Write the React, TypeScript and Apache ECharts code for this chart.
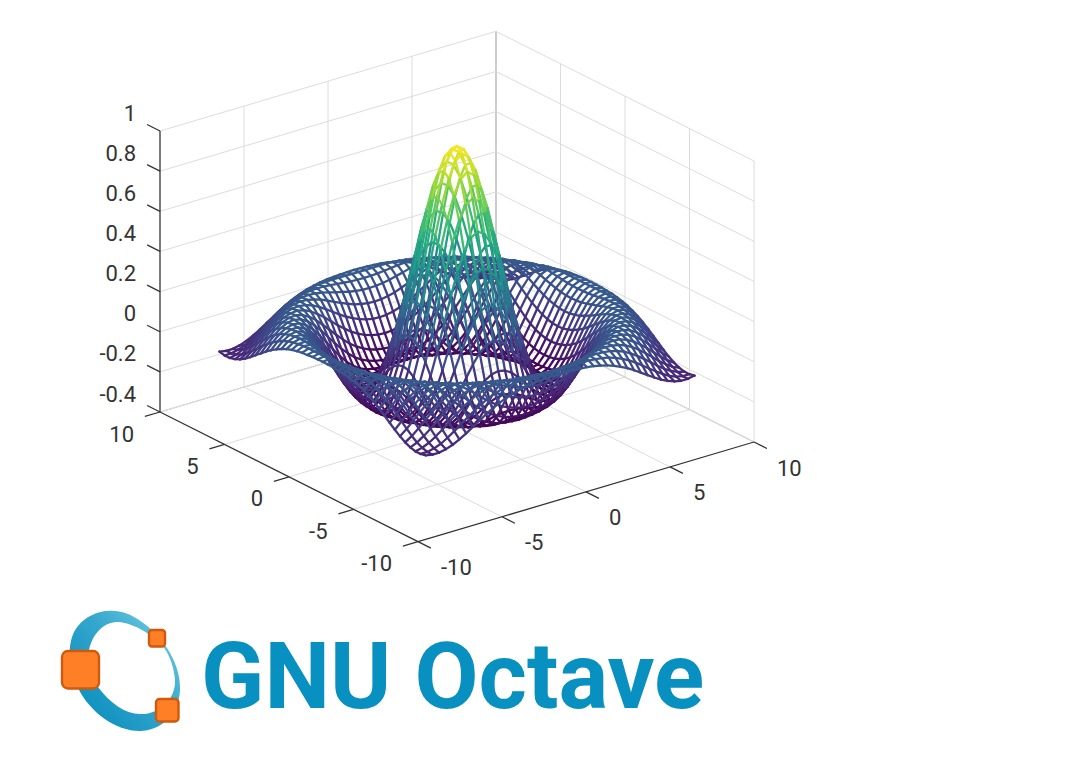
import React, { useEffect, useRef } from "react";
import * as echarts from "echarts";

// Height of the surface at the grid nodes (-8..8, 41 nodes a side), estimated by eye and
// written out once per symmetric node: halfMesh[max(|i|,|j|)][min(|i|,|j|)].
const halfMesh: number[][] = [
  [1.0],
  [0.974, 0.947],
  [0.897, 0.871, 0.799],
  [0.777, 0.753, 0.687, 0.584],
  [0.625, 0.604, 0.546, 0.455, 0.34],
  [0.455, 0.437, 0.388, 0.311, 0.215, 0.109],
  [0.282, 0.268, 0.227, 0.166, 0.089, 0.007, -0.073],
  [0.12, 0.109, 0.079, 0.032, -0.025, -0.085, -0.14, -0.184],
  [-0.018, -0.025, -0.046, -0.079, -0.118, -0.156, -0.189, -0.21, -0.216],
  [-0.123, -0.127, -0.14, -0.16, -0.181, -0.2, -0.213, -0.217, -0.206, -0.182],
  [-0.189, -0.191, -0.196, -0.205, -0.212, -0.217, -0.213, -0.201, -0.178, -0.146, -0.103],
  [-0.216, -0.216, -0.217, -0.217, -0.212, -0.205, -0.19, -0.168, -0.137, -0.099, -0.056, -0.01],
  [-0.208, -0.206, -0.202, -0.196, -0.185, -0.17, -0.148, -0.119, -0.085, -0.047, -0.006, 0.034, 0.071],
  [-0.17, -0.168, -0.162, -0.152, -0.137, -0.117, -0.092, -0.062, -0.029, 0.006, 0.041, 0.074, 0.1, 0.119],
  [-0.113, -0.111, -0.103, -0.092, -0.076, -0.056, -0.031, -0.004, 0.026, 0.055, 0.081, 0.104, 0.12, 0.128, 0.125],
  [-0.047, -0.045, -0.038, -0.027, -0.012, 0.006, 0.027, 0.05, 0.073, 0.094, 0.111, 0.123, 0.128, 0.125, 0.114, 0.095],
  [0.018, 0.02, 0.026, 0.034, 0.047, 0.061, 0.076, 0.093, 0.107, 0.118, 0.126, 0.128, 0.124, 0.112, 0.093, 0.069, 0.04],
  [0.073, 0.074, 0.078, 0.084, 0.093, 0.101, 0.111, 0.119, 0.125, 0.128, 0.126, 0.119, 0.107, 0.089, 0.066, 0.038, 0.009, -0.02],
  [0.11, 0.111, 0.113, 0.116, 0.12, 0.124, 0.127, 0.128, 0.126, 0.121, 0.112, 0.099, 0.08, 0.058, 0.033, 0.006, -0.021, -0.046, -0.067],
  [0.127, 0.127, 0.128, 0.128, 0.128, 0.127, 0.124, 0.119, 0.112, 0.101, 0.086, 0.068, 0.047, 0.023, -0.002, -0.026, -0.049, -0.069, -0.082, -0.09],
  [0.124, 0.123, 0.122, 0.119, 0.117, 0.112, 0.105, 0.096, 0.084, 0.069, 0.052, 0.032, 0.01, -0.012, -0.034, -0.054, -0.071, -0.083, -0.09, -0.09, -0.084],
];
const nodeStep = 0.4;
const xyTicks = [-10, -5, 0, 5, 10];
const zTicks = [-0.4, -0.2, 0, 0.2, 0.4, 0.6, 0.8, 1];
const zTickLabels = ["-0.4", "-0.2", "0", "0.2", "0.4", "0.6", "0.8", "1"];
const viridis = ["#440154", "#482878", "#3e4989", "#31688e", "#26828e", "#1f9e89", "#35b779", "#6ece58", "#b5de2b", "#fde725"];
const logoTitle = "GNU Octave";

const ORIGIN = { u: 457, v: 427 };
const EX = { u: 16.8, v: -4.985 };
const EY = { u: -12.9, v: -6.485 };
const EZ = -200.7;
const project = (x: number, y: number, z: number): [number, number] => [
  ORIGIN.u + EX.u * x + EY.u * y,
  ORIGIN.v + EX.v * x + EY.v * y + EZ * (z + 0.4),
];
const nodeZ = (i: number, j: number) => {
  const a = Math.abs(i), b = Math.abs(j);
  return halfMesh[Math.max(a, b)][Math.min(a, b)];
};

const RING_PATH =
  "M110 610.7C128 610 142 621 152 630C168 645 181 668 180 690C179 715 160 731 140 731C115 731 90 712 78 688C68 668 66 640 78 626C85 617 97 611 110 610.7Z" +
  "M118 622C105 622 93 632 89 650C87 665 92 678 98 687C110 703 125 714 140 714C158 715 176 700 175 680C174 665 168 652 162 645C155 637 135 623 118 622Z";
echarts.graphic.registerShape("octaveRing", echarts.graphic.extendPath(RING_PATH, {}) as any);

function meshSegments() {
  const out: number[][] = [];
  for (let j = 20; j >= -20; j--) {
    for (let i = 20; i >= -20; i--) {
      const x = i * nodeStep, y = j * nodeStep, z = nodeZ(i, j);
      if (i > -20) {
        const z2 = nodeZ(i - 1, j);
        out.push([x, y, z, (i - 1) * nodeStep, y, z2, (z + z2) / 2]);
      }
      if (j > -20) {
        const z2 = nodeZ(i, j - 1);
        out.push([x, y, z, x, (j - 1) * nodeStep, z2, (z + z2) / 2]);
      }
    }
  }
  return out;
}

// kind: 0 wall grid, 1 rear edge, 2 dark axis line or tick
function frameSegments() {
  const zLo = zTicks[0], zHi = zTicks[zTicks.length - 1];
  const out: number[][] = [];
  for (const t of xyTicks) {
    if (t > -10) out.push([t, -10, zLo, t, 10, zLo, t === 10 ? 1 : 0]);
    if (t > -10) out.push([-10, t, zLo, 10, t, zLo, t === 10 ? 1 : 0]);
    if (t > -10) out.push([t, 10, zLo, t, 10, zHi, t === 10 ? 1 : 0]);
    out.push([10, t, zLo, 10, t, zHi, t === 10 ? 1 : 0]);
  }
  for (const z of zTicks) {
    out.push([-10, 10, z, 10, 10, z, 0]);
    out.push([10, 10, z, 10, -10, z, 0]);
  }
  out.push([-10, 10, zLo, -10, -10, zLo, 2]);
  out.push([-10, -10, zLo, 10, -10, zLo, 2]);
  out.push([-10, 10, zLo, -10, 10, zHi, 2]);
  for (const t of xyTicks) {
    out.push([t, -10, zLo, t, -11, zLo, 2]);
    out.push([-10, t, zLo, -10.9, t, zLo, 2]);
  }
  for (const z of zTicks) out.push([-10, 10, z, -10, 11, z, 2]);
  return out;
}

const LINE_STYLES: Record<number, any> = {
  0: { stroke: "#dcdcdc", lineWidth: 1 },
  1: { stroke: "#bfbfbf", lineWidth: 1.1 },
  2: { stroke: "#333333", lineWidth: 1.3 },
};

function labelRows() {
  const rows: any[] = [];
  xyTicks.forEach((t) => {
    rows.push({ value: [-10, t, -0.4, -26, 22, 0], name: String(t) });
    rows.push({ value: [t, -10, -0.4, 23, 26, 1], name: String(t) });
  });
  zTicks.forEach((z, k) => rows.push({ value: [-10, 10, z, -24, -18, 0], name: zTickLabels[k] }));
  return rows;
}

const square = (x: number, y: number, w: number, h: number, r: number) => ({
  type: "rect",
  shape: { x, y, width: w, height: h, r },
  style: { fill: "#ff7f27", stroke: "#cf5a0c", lineWidth: 2.4 },
  z: 12,
});

export default function App() {
  const ref = useRef<HTMLDivElement>(null);
  useEffect(() => {
    const chart = echarts.init(ref.current!, undefined, { renderer: "svg" });
    const hiddenAxis = (max: number, inverse: boolean) => ({
      type: "value" as const, min: 0, max, inverse, show: false, splitLine: { show: false },
    });
    const lineItem = (params: any, api: any) => {
      const a = project(api.value(0), api.value(1), api.value(2));
      const b = project(api.value(3), api.value(4), api.value(5));
      const p = api.coord(a), q = api.coord(b);
      return { p, q };
    };
    const labels = labelRows();
    chart.setOption({
      animation: false,
      backgroundColor: "#ffffff",
      grid: { left: 0, top: 0, width: 1080, height: 766 },
      xAxis: hiddenAxis(1080, false),
      yAxis: hiddenAxis(766, true),
      visualMap: {
        show: false, type: "continuous", seriesIndex: 1, dimension: 6,
        min: -0.217, max: 1, inRange: { color: viridis },
      },
      series: [
        {
          type: "custom", silent: true, coordinateSystem: "cartesian2d", clip: false, z: 2,
          data: frameSegments(),
          renderItem: (params: any, api: any) => {
            const { p, q } = lineItem(params, api);
            return {
              type: "line",
              shape: { x1: p[0], y1: p[1], x2: q[0], y2: q[1] },
              style: LINE_STYLES[api.value(6)],
            };
          },
        },
        {
          type: "custom", silent: true, coordinateSystem: "cartesian2d", clip: false, z: 3,
          data: meshSegments(),
          renderItem: (params: any, api: any) => {
            const { p, q } = lineItem(params, api);
            return {
              type: "line",
              shape: { x1: p[0], y1: p[1], x2: q[0], y2: q[1] },
              style: { stroke: api.visual("color"), lineWidth: 2.3, lineCap: "round" },
            };
          },
        },
        {
          type: "custom", silent: true, coordinateSystem: "cartesian2d", clip: false, z: 4,
          data: labels,
          renderItem: (params: any, api: any) => {
            const p = api.coord(project(api.value(0), api.value(1), api.value(2)));
            return {
              type: "text",
              x: p[0] + api.value(3),
              y: p[1] + api.value(4),
              style: {
                text: labels[params.dataIndex].name,
                align: api.value(5) === 1 ? "left" : "right",
                verticalAlign: "middle",
                fontFamily: "Roboto",
                fontSize: 22,
                fill: "#333333",
              },
            };
          },
        },
      ],
      graphic: [
        {
          type: "octaveRing",
          x: 0, y: 0, z: 10,
          style: {
            fill: new echarts.graphic.LinearGradient(0.1, 0.85, 0.9, 0.1, [
              { offset: 0, color: "#0a8fbe" },
              { offset: 0.55, color: "#34a6cd" },
              { offset: 1, color: "#6bcbe0" },
            ]),
          },
        },
        square(62, 651, 37, 37.5, 6),
        square(149, 630, 16, 16.5, 3),
        square(156, 699, 22.5, 22.5, 3.5),
        {
          type: "text", x: 201, y: 676, z: 12,
          style: {
            text: logoTitle, fontFamily: "Roboto", fontWeight: 700, fontSize: 93,
            fill: "#0790c0", align: "left", verticalAlign: "middle",
          },
        },
      ],
    } as any);
    return () => chart.dispose();
  }, []);
  return <div ref={ref} style={{ position: "fixed", left: 0, top: 0, width: 1080, height: 766 }} />;
}
